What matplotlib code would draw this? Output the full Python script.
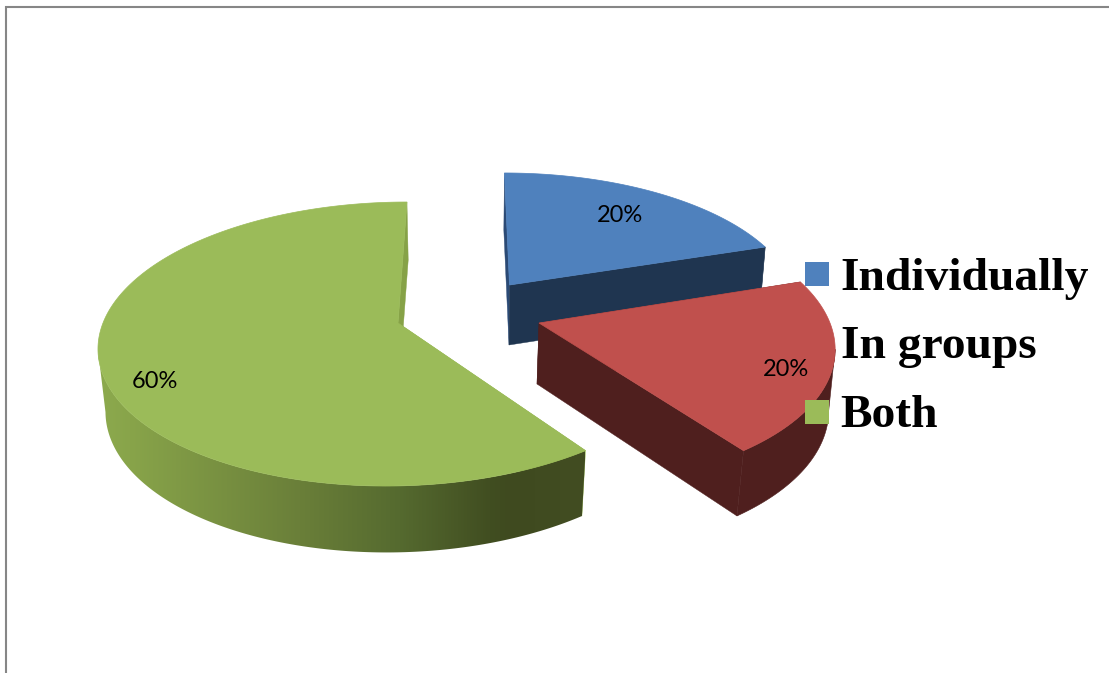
import numpy as np
import matplotlib
matplotlib.use("Agg")
import matplotlib.pyplot as plt
from matplotlib.colors import to_rgb
from matplotlib.patches import Polygon

# Chart data
categories = ["Individually", "In groups", "Both"]
shares = [20, 20, 60]
share_labels = ["20%", "20%", "60%"]

# Slice colours
top_colors = ["#4f81bd", "#c0504d", "#9bbb59"]
wall_flat_colors = ["#1f3550", "#4f1f1e", "#404d20"]
start_face_colors = ["#2b4a75", "#4f1f1e", "#9bbb59"]
end_face_colors = ["#1f3550", "#4f1f1e", "#86a247"]

# Perspective disc for each exploded slice, in figure pixels:
# (centre x, centre y, radius x, radius y, shear) for top and bottom faces
top_discs = [
    (509.5, 285.0, 283.0, 128.6, 0.045),
    (539.0, 323.0, 291.0, 138.9, 0.080),
    (398.0, 323.0, 295.0, 138.9, -0.074),
]
bottom_discs = [
    (509.0, 345.0, 278.0, 132.0, 0.045),
    (537.0, 384.0, 287.0, 143.6, 0.063),
    (399.0, 384.6, 288.5, 143.0, -0.074),
]
TILT = 0.148

# Shading along the curved wall of the large slice
wall_x = [95, 130, 300, 400, 490, 510, 585]
wall_colors = ["#8dab4e", "#88a44a", "#6a7f39", "#556a2f", "#414e21", "#3f4a1f", "#424d22"]

label_positions = [(619.5, 215.0), (785.5, 369.5), (155.0, 382.0)]
legend_marker_tops = [262, 331, 400]
legend_baselines = [290, 358, 427]


def project(disc, theta):
    """Map clockwise-from-top angles on a unit circle to figure pixels."""
    cx, cy, rx, ry, shear = disc
    ux, uy = np.sin(theta), np.cos(theta)
    w = 1 + TILT * uy
    dy = -ry * uy / w
    return cx + rx * ux / w + shear * dy, cy + dy


def wall_outline(i, tx, ty, bx, by):
    """Outline of the visible wall, closed along the silhouette of the two arcs."""
    if i == 2:
        a, b = np.argmin(tx), np.argmin(bx)
        xs = np.r_[tx[:a + 1], bx[:b + 1][::-1]]
        ys = np.r_[ty[:a + 1], by[:b + 1][::-1]]
    else:
        a, b = np.argmax(tx), np.argmax(bx)
        xs = np.r_[tx[a:], bx[b:][::-1]]
        ys = np.r_[ty[a:], by[b:][::-1]]
    return np.column_stack([xs, ys])


fig = plt.figure(figsize=(11.09, 6.73), dpi=100, facecolor="white")
ax = fig.add_axes([0, 0, 1, 1])
ax.set_xlim(0, 1109)
ax.set_ylim(673, 0)
ax.axis("off")

# Outer frame running off the right and bottom edges
ax.plot([6, 6, 1109], [673, 7, 7], color="#868686", lw=1.5,
        solid_joinstyle="miter", zorder=1)

edges = np.radians(np.concatenate([[0], np.cumsum(shares)]) * 360 / sum(shares))
order = [2, 0, 1]  # back-to-front drawing order

for z, i in enumerate(order):
    base = 10 * (z + 1)
    t0, t1 = edges[i], edges[i + 1]
    top, bot = top_discs[i], bottom_discs[i]
    arc = np.linspace(t0, t1, 361)
    tx, ty = project(top, arc)
    bx, by = project(bot, arc)

    # Radial faces meeting at the slice centre
    for angle, colour in ((t0, start_face_colors[i]), (t1, end_face_colors[i])):
        ex, ey = project(top, np.array([angle]))
        fx, fy = project(bot, np.array([angle]))
        ax.fill([top[0], ex[0], fx[0], bot[0]], [top[1], ey[0], fy[0], bot[1]],
                color=colour, lw=0.3, zorder=base)

    # Curved outer wall: the large slice gets a horizontal gradient
    wall_xy = wall_outline(i, tx, ty, bx, by)
    if i == 2:
        xs = np.arange(wall_x[0], wall_x[-1] + 1)
        stops = np.array([to_rgb(c) for c in wall_colors])
        ramp = np.stack([np.interp(xs, wall_x, stops[:, c]) for c in range(3)], axis=-1)
        image = ax.imshow(ramp[np.newaxis, :, :], aspect="auto", interpolation="bilinear",
                          extent=(xs[0], xs[-1], 560, 300), zorder=base + 1)
        image.set_clip_path(Polygon(wall_xy, closed=True, transform=ax.transData))
    else:
        ax.fill(wall_xy[:, 0], wall_xy[:, 1], color=wall_flat_colors[i], lw=0.4, zorder=base + 1)

    # Top face
    ax.fill(np.r_[top[0], tx], np.r_[top[1], ty],
            color=top_colors[i], lw=0.5, zorder=base + 2)

ax.set_xlim(0, 1109)
ax.set_ylim(673, 0)

for (x, y), text in zip(label_positions, share_labels):
    ax.text(x, y, text, family="Lato", fontsize=17, color="black",
            ha="center", va="center", zorder=60)

# Legend
for name, colour, y0, base_y in zip(categories, top_colors, legend_marker_tops, legend_baselines):
    ax.fill([805, 829, 829, 805], [y0, y0, y0 + 24, y0 + 24],
            color=colour, lw=0, zorder=50)
    ax.text(840.7, base_y, name, family="Liberation Serif", weight="bold",
            fontsize=34.2, color="black", ha="left", va="baseline", zorder=60)

fig.savefig("out.png", dpi=100, facecolor="white")
